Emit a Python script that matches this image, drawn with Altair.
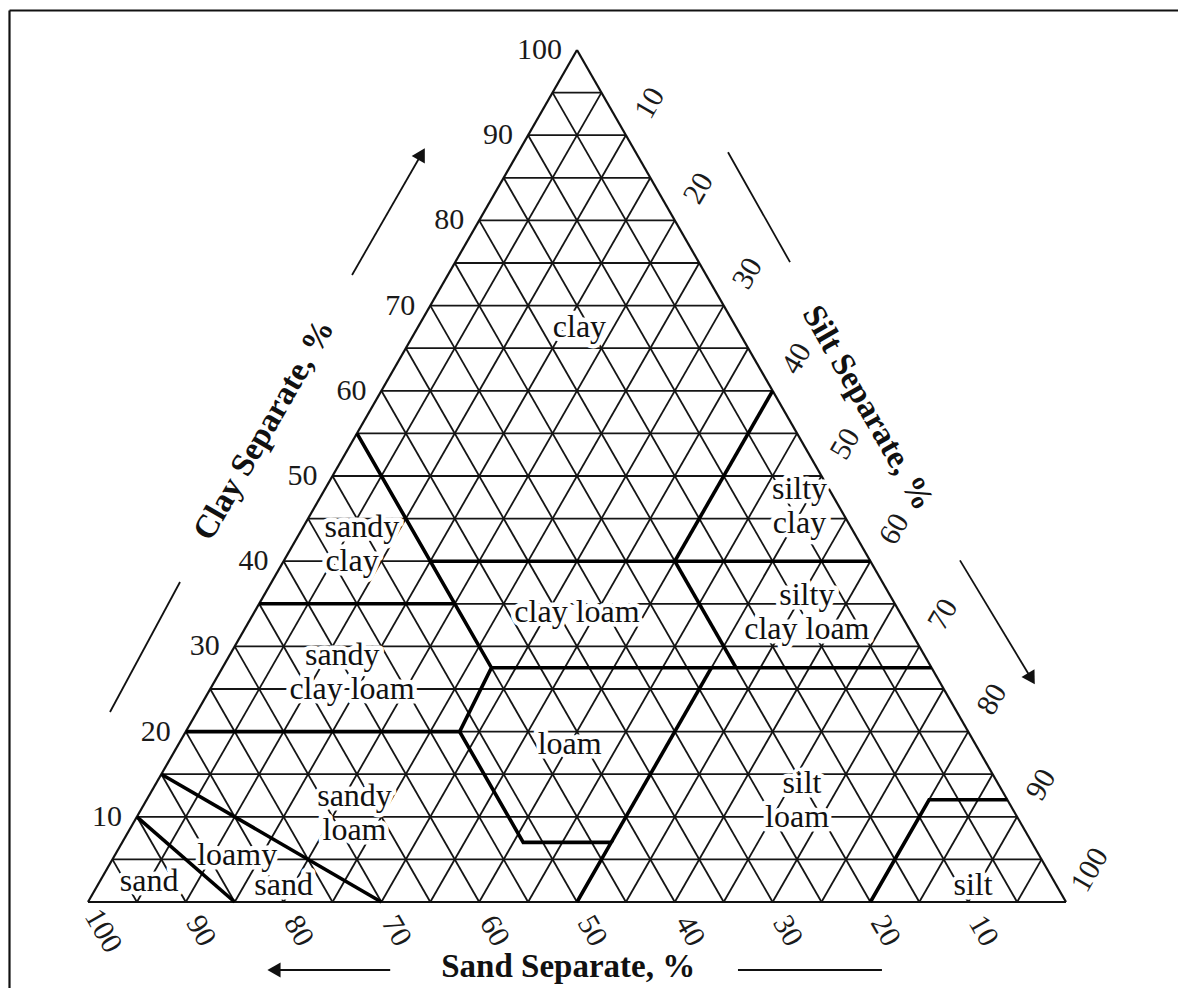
import math
import altair as alt
import pandas as pd

# ---------------- data ----------------
GRID_LEVELS = [5, 10, 15, 20, 25, 30, 35, 40, 45, 50, 55, 60, 65, 70, 75, 80, 85, 90, 95]
TICK_VALUES = [10, 20, 30, 40, 50, 60, 70, 80, 90, 100]

# texture-class boundary polylines, vertices as (sand, silt, clay) %
BOUNDARY_SAND = [
    [45, 45, 52, 52, 43, 50],
    [45, 0],
    [65, 45],
    [45, 0],
    [80, 52],
    [43, 22.5],
    [20, 20],
    [20, 0],
    [20, 8, 0],
    [85, 70],
    [90, 85],
]
BOUNDARY_SILT = [
    [0, 27.5, 28, 41, 50, 50],
    [15, 60],
    [0, 20],
    [27.5, 72.5],
    [0, 28],
    [50, 50],
    [40, 52.5],
    [40, 40],
    [80, 80, 88],
    [0, 30],
    [0, 15],
]
BOUNDARY_CLAY = [
    [55, 27.5, 20, 7, 7, 0],
    [40, 40],
    [35, 35],
    [27.5, 27.5],
    [20, 20],
    [7, 27.5],
    [40, 27.5],
    [40, 60],
    [0, 12, 12],
    [15, 0],
    [10, 0],
]

# class names
LABEL_TEXT = ["clay", "silty", "clay", "sandy", "clay", "clay loam", "silty", "clay loam",
              "sandy", "clay loam", "loam", "silt", "loam", "sandy", "loam", "silt",
              "loamy", "sand", "sand"]
LABEL_SAND = [16, 3, 5, 50, 53, 33, 8.5, 10.5, 59.5, 60.5, 41.5, 20, 22.5, 66.5, 68.5, 8.5, 82, 92.5, 79]
LABEL_SILT = [16.5, 48.5, 50.5, 6, 7, 33, 55.5, 57.5, 11.5, 14.5, 40, 66, 67.5, 21, 23, 89.5, 12.5, 5, 19]
LABEL_CLAY = [67.5, 48.5, 44.5, 44, 40, 34, 36, 32, 29, 25, 18.5, 14, 10, 12.5, 8.5, 2, 5.5, 2.5, 2]

# axis titles
TITLE_TEXT = ["Clay Separate, %", "Silt Separate, %", "Sand Separate, %"]
TITLE_X = [18.0, 79.75, 49.1]
TITLE_Y = [55.4, 58.0, -7.6]
TITLE_ANGLE = [300, 60, 0]

# direction arrows / lines (plot units: x across base %, y = clay %)
ARROW_X1 = [27.0, 89.16, 30.9]
ARROW_Y1 = [73.6, 40.1, -7.98]
ARROW_X2 = [34.46, 96.83, 18.3]
ARROW_Y2 = [88.5, 25.5, -7.98]
PLAIN_X1 = [9.41, 65.44, 66.46]
PLAIN_Y1 = [37.56, 88.0, -7.98]
PLAIN_X2 = [2.25, 71.78, 81.18]
PLAIN_Y2 = [22.3, 75.1, -7.98]

# ---------------- layout ----------------
W, H = 978, 852
PAD_L, PAD_T = 80, 42
PAD_R, PAD_B = 1170 - W - PAD_L, 980 - H - PAD_T
PXX, PXY = W / 100.0, H / 100.0
FONT = "Liberation Serif"


def tx(silt, clay):
    return silt + clay / 2.0


# grid segments
g = []
for c in GRID_LEVELS:
    g.append(dict(x=c / 2, y=c, x2=100 - c / 2, y2=c))                 # clay const
    g.append(dict(x=100 - c, y=0, x2=(100 - c) / 2, y2=100 - c))       # sand const
    g.append(dict(x=c, y=0, x2=c + (100 - c) / 2, y2=100 - c))         # silt const
grid_df = pd.DataFrame(g)
edge_df = pd.DataFrame([
    dict(x=0, y=0, x2=100, y2=0),
    dict(x=0, y=0, x2=50, y2=100),
    dict(x=100, y=0, x2=50, y2=100),
])

# boundaries
b = []
for i, (ss, sl, cl) in enumerate(zip(BOUNDARY_SAND, BOUNDARY_SILT, BOUNDARY_CLAY)):
    for j, (s1, t1, c1) in enumerate(zip(ss, sl, cl)):
        b.append(dict(line=i, order=j, x=tx(t1, c1), y=c1))
bound_df = pd.DataFrame(b)

lab_df = pd.DataFrame(dict(
    text=LABEL_TEXT,
    x=[tx(t, c) for t, c in zip(LABEL_SILT, LABEL_CLAY)],
    y=LABEL_CLAY,
))

# tick labels
left_df = pd.DataFrame(dict(text=[str(v) for v in TICK_VALUES],
                            x=[v / 2 for v in TICK_VALUES], y=TICK_VALUES))
bottom_df = pd.DataFrame(dict(text=[str(v) for v in TICK_VALUES],
                              x=[100 - v + 15 / PXX for v in TICK_VALUES],
                              y=[-29 / PXY for v in TICK_VALUES]))
right_df = pd.DataFrame(dict(text=[str(v) for v in TICK_VALUES],
                             x=[50 + v / 2 + 24 / PXX for v in TICK_VALUES],
                             y=[100 - v + 32 / PXY for v in TICK_VALUES]))

title_df = pd.DataFrame(dict(text=TITLE_TEXT, x=TITLE_X, y=TITLE_Y, angle=TITLE_ANGLE))

# arrows
arr = []
heads = []
for x1, y1, x2, y2 in zip(ARROW_X1, ARROW_Y1, ARROW_X2, ARROW_Y2):
    dxp, dyp = (x2 - x1) * PXX, -(y2 - y1) * PXY
    L = math.hypot(dxp, dyp)
    ux, uy = dxp / L, dyp / L
    back = 7.0
    hx, hy = x2 - ux * back / PXX, y2 + uy * back / PXY
    arr.append(dict(x=x1, y=y1, x2=hx, y2=hy))
    ang = math.degrees(math.atan2(dxp, -dyp)) % 360
    heads.append(dict(x=hx, y=hy, angle=ang))
for x1, y1, x2, y2 in zip(PLAIN_X1, PLAIN_Y1, PLAIN_X2, PLAIN_Y2):
    arr.append(dict(x=x1, y=y1, x2=x2, y2=y2))
arrow_df = pd.DataFrame(arr)
head_df = pd.DataFrame(heads)

xs = alt.Scale(domain=[0, 100], nice=False, zero=False)
ys = alt.Scale(domain=[0, 100], nice=False, zero=False)


def X(f="x"):
    return alt.X(f, type="quantitative", scale=xs, axis=None)


def Y(f="y"):
    return alt.Y(f, type="quantitative", scale=ys, axis=None)


grid = alt.Chart(grid_df).mark_rule(color="#151515", strokeWidth=1.8).encode(
    x=X(), y=Y(), x2="x2", y2="y2")
edges = alt.Chart(edge_df).mark_rule(color="#111", strokeWidth=2.2).encode(
    x=X(), y=Y(), x2="x2", y2="y2")

halo = alt.Chart(lab_df).mark_text(font=FONT, fontSize=32, stroke="white", strokeWidth=9,
                                   strokeJoin="round", fill="white", baseline="middle").encode(
    x=X(), y=Y(), text="text")
bounds = alt.Chart(bound_df).mark_line(color="black", strokeWidth=3.6, strokeJoin="miter").encode(
    x=X(), y=Y(), detail="line:N", order="order:Q")
labels = alt.Chart(lab_df).mark_text(font=FONT, fontSize=32, color="#111", baseline="middle").encode(
    x=X(), y=Y(), text="text")

left_t = alt.Chart(left_df).mark_text(font=FONT, fontSize=30, color="#1a1a1a", align="right",
                                      baseline="middle", dx=-15).encode(x=X(), y=Y(), text="text")
bottom_t = alt.Chart(bottom_df).mark_text(font=FONT, fontSize=30, color="#1a1a1a", align="center",
                                          baseline="middle", angle=60).encode(x=X(), y=Y(), text="text")
right_t = alt.Chart(right_df).mark_text(font=FONT, fontSize=30, color="#1a1a1a", align="center",
                                        baseline="middle", angle=300).encode(x=X(), y=Y(), text="text")

titles = alt.Chart(title_df).mark_text(font=FONT, fontSize=33, fontWeight="bold", color="#111",
                                       align="center", baseline="middle").encode(
    x=X(), y=Y(), text="text", angle=alt.Angle("angle:Q", scale=None))

arrows = alt.Chart(arrow_df).mark_rule(color="#111", strokeWidth=1.8).encode(
    x=X(), y=Y(), x2="x2", y2="y2")
heads_m = alt.Chart(head_df).mark_point(shape="triangle-up", filled=True, size=230, color="#111",
                                        opacity=1).encode(
    x=X(), y=Y(), angle=alt.Angle("angle:Q", scale=None))

one = pd.DataFrame(dict(k=[0]))
frame_top = alt.Chart(one).mark_rule(color="#111", strokeWidth=2.2).encode(
    x=alt.value(-78.5), x2=alt.value(W + PAD_R), y=alt.value(-39.5))
frame_left = alt.Chart(one).mark_rule(color="#111", strokeWidth=2.2).encode(
    x=alt.value(-78.5), y=alt.value(-39.5), y2=alt.value(H + PAD_B))

chart = alt.layer(
    grid, edges, halo, bounds, labels, left_t, bottom_t, right_t, titles, arrows, heads_m,
    frame_top, frame_left,
).properties(
    width=W, height=H,
    padding={"left": PAD_L, "top": PAD_T, "right": PAD_R, "bottom": PAD_B},
    autosize=alt.AutoSizeParams(type="none"),
    background="white",
).configure_view(stroke=None)

chart.save("out.html", embed_options={"renderer": "svg", "actions": False})
